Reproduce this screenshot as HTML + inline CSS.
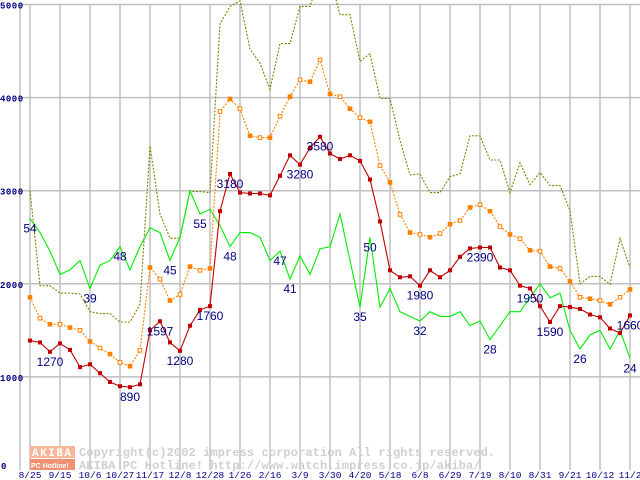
<!DOCTYPE html>
<html><head><meta charset="utf-8"><style>
html,body{margin:0;padding:0;background:#fff;width:640px;height:480px;overflow:hidden}
svg{display:block}
</style></head><body>
<svg id="chart" width="640" height="480" xmlns="http://www.w3.org/2000/svg"></svg>
<script>
const dateLabels=["8/25","9/15","10/6","10/27","11/17","12/8","12/28","1/26","2/16","3/9","3/30","4/20","5/18","6/8","6/29","7/19","8/10","8/31","9/21","10/12","11/2"];
const yTicks=[0,1000,2000,3000,4000,5000];
const redVals=[1390,1370,1270,1360,1290,1105,1135,1040,945,900,890,920,1500,1597,1370,1280,1550,1720,1760,2780,3180,2980,2970,2970,2950,3160,3380,3280,3460,3580,3400,3340,3380,3320,3120,2670,2145,2070,2080,1980,2145,2070,2145,2290,2380,2390,2390,2175,2145,1980,1950,1760,1590,1760,1750,1730,1670,1640,1520,1470,1660];
const orangeVals=[1855,1630,1565,1565,1530,1500,1380,1310,1245,1155,1115,1285,2175,2050,1820,1885,2185,2145,2165,3850,3985,3880,3590,3570,3570,3800,4010,4190,4170,4405,4040,4010,3880,3785,3740,3270,3090,2745,2550,2530,2500,2540,2640,2680,2820,2850,2780,2615,2530,2485,2360,2350,2185,2165,2025,1855,1840,1820,1780,1855,1940];
const oliveVals=[3000,1980,1980,1900,1900,1890,1700,1680,1680,1590,1590,1780,3480,2750,2490,2490,2990,2990,2980,4790,4980,5040,4520,4370,4090,4580,4580,4980,4980,5300,5300,4890,4890,4390,4470,3990,3990,3540,3170,3180,2980,2980,3150,3180,3590,3590,3330,3330,2980,3300,3065,3195,3055,3055,2785,2000,2080,2080,1995,2485,2175];
const greenVals=[54,51,47,42,43,45,39,44,45,48,43,48,52,51,45,50,60,55,56,52.5,48,51,51,50,45,47,41,46,42,47.5,48,55,45,35,50,35,39,34,33,32,34,33,33,34,31,32,28,31,34,34,37,40,37,38,30,26,29,30,26,30,24];
const redLabelIdx=[2,10,13,15,18,20,27,29,39,45,50,52,60];
const redLabelText=["1270","890","1597","1280","1760","3180","3280","3580","1980","2390","1950","1590","1660"];
const greenLabelIdx=[0,6,9,14,17,20,25,26,33,34,39,46,55,60];
const greenLabelText=["54","39","48","45","55","48","47","41","35","50","32","28","26","24"];

const NS="http://www.w3.org/2000/svg";
const svg=document.getElementById('chart');
const X0=20,Y0=470,YT=4.5;
function xs(i){return 30+i*10;}
function ys(v){return Y0-(v/5000)*(Y0-YT);}
function gv(v){return ys(v*50);}
function mk(tag,attrs,parent){const e=document.createElementNS(NS,tag);for(const k in attrs)e.setAttribute(k,attrs[k]);(parent||svg).appendChild(e);return e;}

const grid=mk('g',{});


yTicks.forEach(v=>{
  if(v>0){const l=mk('line',{x1:X0,x2:640,y1:ys(v),y2:ys(v),stroke:'#c0c0c0','stroke-width':1.5},grid);
  
  }
  const t=mk('text',{x:v===0?1:0,y:v===0?ys(v)-1:ys(v)+4,'font-family':'Liberation Mono, monospace','font-size':9,'font-weight':'bold',fill:'#000080','letter-spacing':'0.5'},svg);
  t.textContent=String(v);
  
  
});
{const l=mk('line',{x1:X0,x2:X0,y1:YT,y2:Y0,stroke:'#c0c0c0','stroke-width':1.5},grid);

}
dateLabels.forEach((d,k)=>{
  const x=xs(k*3);
  const l=mk('line',{x1:x,x2:x,y1:YT,y2:Y0,stroke:'#c0c0c0','stroke-width':1.5},grid);
  
  
  const t=mk('text',{x:x,y:478,'text-anchor':'middle','font-family':'Liberation Mono, monospace','font-size':9.5,fill:'#000080'});
  t.textContent=d;
  
  
});

// watermark
const wm=mk('g',{});


mk('rect',{x:30,y:446,width:45,height:12,fill:'#f8b898'},wm);
mk('rect',{x:30,y:459,width:45,height:11,fill:'#f09070'},wm);
const a1=mk('text',{x:32,y:456,'font-family':'Liberation Mono, monospace','font-size':11,'font-weight':'bold',fill:'#fff','letter-spacing':'1.5'},wm);a1.textContent='AKIBA';
const a2=mk('text',{x:31,y:468,'font-family':'Liberation Sans, sans-serif','font-size':7,'font-weight':'bold',fill:'#fff'},wm);a2.textContent='PC Hotline!';
const c1=mk('text',{x:79,y:456,'font-family':'Liberation Mono, monospace','font-size':12,'font-weight':'bold',fill:'#cfcfcf','letter-spacing':'0.1'},wm);c1.textContent='Copyright(c)2002 impress corporation All rights reserved.';
const c2=mk('text',{x:79,y:469,'font-family':'Liberation Mono, monospace','font-size':12,'font-weight':'bold',fill:'#cfcfcf','letter-spacing':'0.1'},wm);c2.textContent='AKIBA PC Hotline! http://www.watch.impress.co.jp/akiba/';

const clip=mk('clipPath',{id:'pc'});mk('rect',{x:X0,y:0,width:620,height:Y0},clip);
function series(vals,fn,color,dash,name){
  const pts=vals.map((v,i)=>xs(i)+','+fn(v).toFixed(1)).join(' ');
  const p=mk('polyline',{points:pts,fill:'none',stroke:color,'stroke-width':1.1,'stroke-dasharray':dash||'none','clip-path':'url(#pc)'});
  
  
  return p;
}
series(oliveVals,ys,'#808000','2,1.5','olive-series-line');
series(greenVals,gv,'#00ee00',null,'green-series-line');
series(orangeVals,ys,'#ff8000','2,1.5','orange-series-line');
orangeVals.forEach((v,i)=>{
  const r=mk('rect',{x:xs(i)-1.8,y:ys(v)-1.8,width:3.6,height:3.6,fill:i%2?'#fff':'#ff8000',stroke:'#ff8000','stroke-width':1});
  
  
});
series(redVals,ys,'#c00000',null,'red-series-line');
redVals.forEach((v,i)=>{
  const r=mk('rect',{x:xs(i)-2,y:ys(v)-2,width:4,height:4,fill:'#c00000'});
  
  
});
function label(i,txt,y){
  const t=mk('text',{x:xs(i),y:y+14,'text-anchor':'middle','font-family':'Liberation Sans, sans-serif','font-size':12,fill:'#000080'});
  t.textContent=txt;
  
  
}
redLabelIdx.forEach((i,k)=>label(i,redLabelText[k],ys(redVals[i])));
greenLabelIdx.forEach((i,k)=>label(i,greenLabelText[k],gv(greenVals[i])));
</script>
</body></html>
